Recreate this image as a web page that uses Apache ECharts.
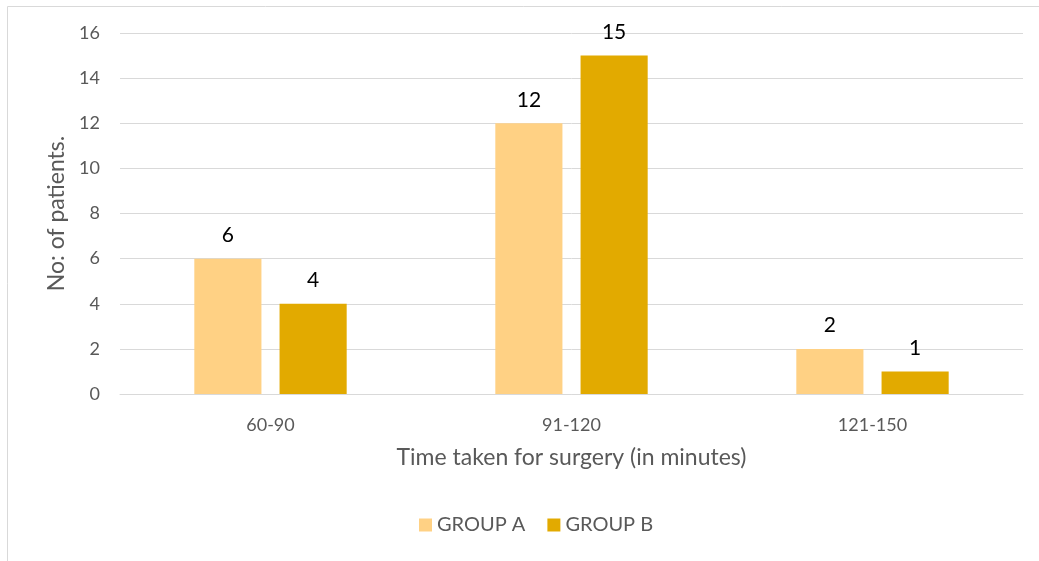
<!DOCTYPE html>
<html><head><meta charset="utf-8">
<script src="https://cdn.jsdelivr.net/npm/echarts@6/dist/echarts.min.js"></script>
<style>html,body{margin:0;padding:0;background:#fff}#c{width:1039px;height:561px}</style>
</head><body><div id="c"></div>
<script>
var categories = ['60-90', '91-120', '121-150'];
var groupA = [6, 12, 2];
var groupB = [4, 15, 1];
var seriesNames = ['GROUP A', 'GROUP B'];
var yTicks = [0, 2, 4, 6, 8, 10, 12, 14, 16];

var FONT = 'Lato';
var chart = echarts.init(document.getElementById('c'));
chart.setOption({
  animation: false,
  textStyle: { fontFamily: FONT },
  graphic: [
    { type: 'polyline', shape: { points: [[7.5, 561], [7.5, 6.5], [1039, 6.5]] }, style: { stroke: '#d9d9d9', lineWidth: 1, fill: null } }
  ],
  grid: { left: 120, right: 16, top: 33, bottom: 167 },
  legend: {
    data: seriesNames, bottom: 21, left: 414, icon: 'rect', itemWidth: 13, itemHeight: 13, itemGap: 22,
    textStyle: { fontFamily: FONT, fontSize: 20, color: '#595959', padding: [0, 0, 0, 0] }
  },
  xAxis: {
    type: 'category', data: categories,
    name: 'Time taken for surgery (in minutes)', nameLocation: 'middle', nameGap: 52,
    nameTextStyle: { fontFamily: FONT, fontSize: 23, color: '#595959' },
    axisLine: { lineStyle: { color: '#d9d9d9', width: 1 } },
    axisTick: { show: false },
    axisLabel: { fontFamily: FONT, fontSize: 18, color: '#595959', margin: 22 }
  },
  yAxis: {
    type: 'value', min: yTicks[0], max: yTicks[yTicks.length - 1], interval: 2,
    name: 'No: of patients.', nameLocation: 'middle', nameGap: 52,
    nameTextStyle: { fontFamily: FONT, fontSize: 23, color: '#595959' },
    axisLine: { show: false }, axisTick: { show: false },
    axisLabel: { fontFamily: FONT, fontSize: 18, color: '#595959', margin: 20 },
    splitLine: { lineStyle: { color: '#d9d9d9', width: 1 } }
  },
  series: [
    { name: seriesNames[0], type: 'bar', data: groupA, barWidth: '22.3%', barGap: '27%',
      itemStyle: { color: '#FFD184' },
      label: { show: true, position: 'top', distance: 13, fontFamily: FONT, fontSize: 21, color: '#000' } },
    { name: seriesNames[1], type: 'bar', data: groupB, barWidth: '22.3%', barGap: '27%',
      itemStyle: { color: '#E2AA00' },
      label: { show: true, position: 'top', distance: 13, fontFamily: FONT, fontSize: 21, color: '#000' } }
  ]
});
</script></body></html>
